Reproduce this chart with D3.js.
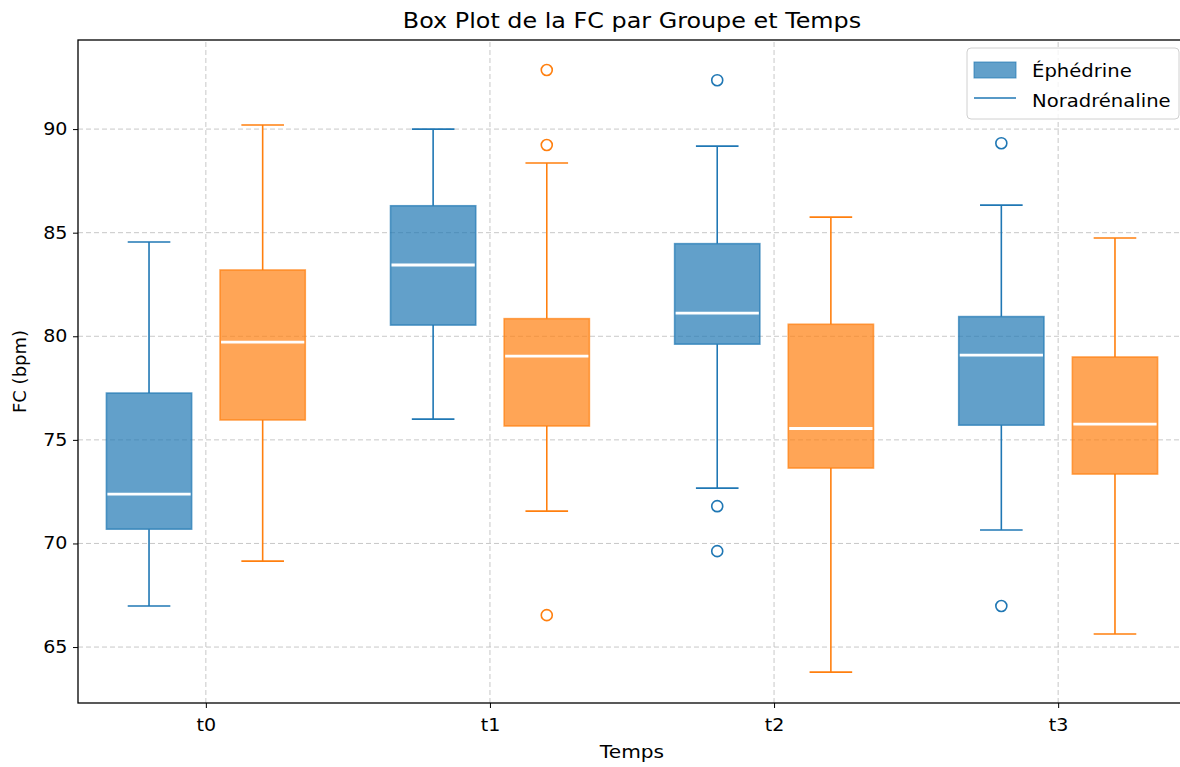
<!DOCTYPE html>
<html>
<head>
<meta charset="utf-8">
<script src="https://cdn.jsdelivr.net/npm/d3@7"></script>
<style>
  body { margin: 0; background: #fff; }
  text { font-family: "DejaVu Sans", sans-serif; }
</style>
</head>
<body>
<div id="chart"></div>
<script>
// temps
const times = ["t0", "t1", "t2", "t3"];
const groups = ["Éphédrine", "Noradrénaline"];
const legendLabels = ["Éphédrine", "Noradrénaline"];
const yTicks = [65, 70, 75, 80, 85, 90];

// Éphédrine : [min moustache, Q1, médiane, Q3, max moustache]
const ephLow = [66.98, 76.0, 72.67, 70.65];
const ephQ1 = [70.69, 80.54, 79.62, 75.71];
const ephMed = [72.38, 83.44, 81.12, 79.09];
const ephQ3 = [77.26, 86.3, 84.47, 80.95];
const ephHigh = [84.55, 90.0, 89.18, 86.33];
const ephOut = [[], [], [92.36, 71.8, 69.63], [89.32, 66.98]];

// Noradrénaline
const norLow = [69.15, 71.56, 63.79, 65.63];
const norQ1 = [75.96, 75.67, 73.64, 73.35];
const norMed = [79.72, 79.04, 75.55, 75.76];
const norQ3 = [83.2, 80.85, 80.58, 79.0];
const norHigh = [90.2, 88.36, 85.75, 84.74];
const norOut = [[], [92.85, 89.23, 66.54], [], []];

const W = 1180, H = 767;
const margin = { left: 78, top: 40, right: -6, bottom: 64 };
const colors = ["#1f77b4", "#ff7f0e"];
const stretch = 1.12; // le texte de la référence est un peu élargi

const svg = d3.select("#chart").append("svg")
  .attr("width", W).attr("height", H);

const x = d3.scaleLinear().domain([-0.45, 3.45]).range([margin.left, W - margin.right]);
const y = d3.scaleLinear().domain([62.3, 94.3]).range([H - margin.bottom, margin.top]);

// grille
const grid = svg.append("g");
yTicks.forEach(v => {
  grid.append("line")
    .attr("x1", x.range()[0]).attr("x2", x.range()[1])
    .attr("y1", y(v)).attr("y2", y(v))
    .attr("stroke", "#b0b0b0").attr("stroke-opacity", 0.7)
    .attr("stroke-dasharray", "5,3").attr("stroke-width", 1);
});
times.forEach((t, i) => {
  grid.append("line")
    .attr("x1", x(i)).attr("x2", x(i))
    .attr("y1", y.range()[0]).attr("y2", y.range()[1])
    .attr("stroke", "#b0b0b0").attr("stroke-opacity", 0.7)
    .attr("stroke-dasharray", "5,3").attr("stroke-width", 1);
});

const boxW = 0.3, offset = 0.2;
const series = [
  { low: ephLow, q1: ephQ1, med: ephMed, q3: ephQ3, high: ephHigh, out: ephOut },
  { low: norLow, q1: norQ1, med: norMed, q3: norQ3, high: norHigh, out: norOut }
];

series.forEach((s, gi) => {
  const g = svg.append("g");
  const c = colors[gi];
  times.forEach((t, i) => {
    const cx = i + (gi === 0 ? -offset : offset);
    const x0 = x(cx - boxW / 2), x1 = x(cx + boxW / 2);
    const cap0 = x(cx - boxW / 4), cap1 = x(cx + boxW / 4);
    // moustaches
    g.append("line").attr("x1", x(cx)).attr("x2", x(cx))
      .attr("y1", y(s.q1[i])).attr("y2", y(s.low[i]))
      .attr("stroke", c).attr("stroke-width", 1.6);
    g.append("line").attr("x1", x(cx)).attr("x2", x(cx))
      .attr("y1", y(s.q3[i])).attr("y2", y(s.high[i]))
      .attr("stroke", c).attr("stroke-width", 1.6);
    g.append("line").attr("x1", cap0).attr("x2", cap1)
      .attr("y1", y(s.low[i])).attr("y2", y(s.low[i]))
      .attr("stroke", c).attr("stroke-width", 1.6);
    g.append("line").attr("x1", cap0).attr("x2", cap1)
      .attr("y1", y(s.high[i])).attr("y2", y(s.high[i]))
      .attr("stroke", c).attr("stroke-width", 1.6);
    // boîte
    g.append("rect")
      .attr("x", x0).attr("width", x1 - x0)
      .attr("y", y(s.q3[i])).attr("height", y(s.q1[i]) - y(s.q3[i]))
      .attr("fill", c).attr("fill-opacity", 0.7)
      .attr("stroke", c).attr("stroke-opacity", 0.7).attr("stroke-width", 1.6);
    // médiane
    g.append("line").attr("x1", x0 + 1).attr("x2", x1 - 1)
      .attr("y1", y(s.med[i])).attr("y2", y(s.med[i]))
      .attr("stroke", "#fff").attr("stroke-width", 2.8);
    // valeurs aberrantes
    s.out[i].forEach(v => {
      g.append("circle").attr("cx", x(cx)).attr("cy", y(v)).attr("r", 5.5)
        .attr("fill", "none").attr("stroke", c).attr("stroke-width", 1.6);
    });
  });
});

// axes
const axB = svg.append("g").attr("transform", `translate(0,${y.range()[0]})`)
  .call(d3.axisBottom(x).tickValues(d3.range(times.length)).tickFormat(i => times[i]).tickSize(5).tickSizeOuter(0));
const axL = svg.append("g").attr("transform", `translate(${x.range()[0]},0)`)
  .call(d3.axisLeft(y).tickValues(yTicks).tickSize(5).tickSizeOuter(0));
[axB, axL].forEach(a => {
  a.select(".domain").remove();
  a.selectAll(".tick line").attr("stroke", "#000").attr("stroke-width", 1);
  a.selectAll(".tick text").attr("font-size", 17).attr("fill", "#000")
    .attr("font-family", "DejaVu Sans, sans-serif").classed("wide", true);
});
axB.selectAll(".tick text").attr("dy", "1.15em");
axL.selectAll(".tick text").attr("dx", "-0.15em");

// cadre
svg.append("rect")
  .attr("x", x.range()[0]).attr("y", y.range()[1])
  .attr("width", x.range()[1] - x.range()[0]).attr("height", y.range()[0] - y.range()[1])
  .attr("fill", "none").attr("stroke", "#000").attr("stroke-width", 1.3);

// titres
const midX = (x.range()[0] + x.range()[1]) / 2;
svg.append("text").attr("class", "wide").attr("x", midX).attr("y", 28)
  .attr("text-anchor", "middle").attr("font-size", 21.3).text("Box Plot de la FC par Groupe et Temps");
svg.append("text").attr("class", "wide").attr("x", midX).attr("y", 758)
  .attr("text-anchor", "middle").attr("font-size", 18).text("Temps");
svg.append("text").attr("transform", `translate(26,${(y.range()[0] + y.range()[1]) / 2}) rotate(-90)`)
  .attr("text-anchor", "middle").attr("font-size", 18).text("FC (bpm)");

// légende
const leg = svg.append("g").attr("transform", "translate(967,48)");
leg.append("rect").attr("width", 212).attr("height", 71).attr("rx", 4)
  .attr("fill", "#fff").attr("fill-opacity", 0.8).attr("stroke", "#d0d0d0");
leg.append("rect").attr("x", 7).attr("y", 14).attr("width", 42).attr("height", 16)
  .attr("fill", colors[0]).attr("fill-opacity", 0.7).attr("stroke", colors[0]).attr("stroke-opacity", 0.7);
leg.append("line").attr("x1", 7).attr("x2", 49).attr("y1", 50).attr("y2", 50)
  .attr("stroke", colors[0]).attr("stroke-width", 1.6);
legendLabels.forEach((l, i) => {
  leg.append("text").attr("class", "wide").attr("x", 65).attr("y", 29 + i * 30)
    .attr("font-size", 17.5).text(l);
});

// élargir horizontalement les textes
svg.selectAll("text.wide").each(function () {
  const len = this.getComputedTextLength();
  d3.select(this).attr("textLength", len * stretch).attr("lengthAdjust", "spacingAndGlyphs");
});
</script>
</body>
</html>
